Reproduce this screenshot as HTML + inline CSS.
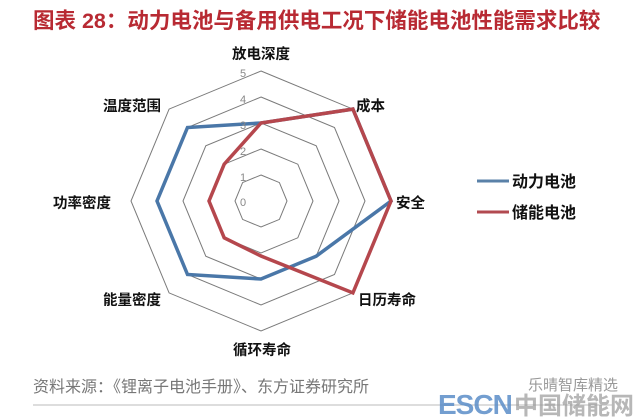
<!DOCTYPE html>
<html><head><meta charset="utf-8"><style>
body{margin:0;background:#fff;}
svg{display:block;}
text{font-family:"Liberation Sans","Noto Sans CJK SC",sans-serif;}
.l{font-size:14.5px;font-weight:bold;fill:#111;}
.n{font-size:11px;fill:#888;}
</style></head><body>
<svg width="640" height="417" viewBox="0 0 640 417">
<rect width="640" height="417" fill="#fff"/>
<text x="33" y="28" font-size="21.5" font-weight="bold" fill="#b82a33">图表 28：动力电池与备用供电工况下储能电池性能需求比较</text>
<g transform="translate(261,201)" fill="none" stroke="#7a7a7a" stroke-width="1">
<polygon points="0,-26 18.4,-18.4 26,0 18.4,18.4 0,26 -18.4,18.4 -26,0 -18.4,-18.4"/>
<polygon points="0,-52 36.8,-36.8 52,0 36.8,36.8 0,52 -36.8,36.8 -52,0 -36.8,-36.8"/>
<polygon points="0,-78 55.2,-55.2 78,0 55.2,55.2 0,78 -55.2,55.2 -78,0 -55.2,-55.2"/>
<polygon points="0,-104 73.5,-73.5 104,0 73.5,73.5 0,104 -73.5,73.5 -104,0 -73.5,-73.5"/>
<polygon points="0,-130 91.9,-91.9 130,0 91.9,91.9 0,130 -91.9,91.9 -130,0 -91.9,-91.9"/>
<polygon stroke="#4a77a8" stroke-width="3.5" points="0,-78 91.9,-91.9 130,0 55.2,55.2 0,78 -73.5,73.5 -104,0 -73.5,-73.5"/>
<polygon stroke="#b5474d" stroke-width="3.5" points="0,-78 91.9,-91.9 130,0 91.9,91.9 0,55 -36.8,36.8 -52,0 -36.8,-36.8"/>
</g>
<g class="n">
<text x="240" y="206">0</text><text x="240" y="181">1</text><text x="240" y="155">2</text>
<text x="240" y="129">3</text><text x="240" y="103">4</text><text x="240" y="77">5</text>
</g>
<g class="l">
<text x="261" y="59" text-anchor="middle">放电深度</text>
<text x="356" y="111">成本</text>
<text x="103" y="111">温度范围</text>
<text x="396" y="208">安全</text>
<text x="53" y="208">功率密度</text>
<text x="358" y="305">日历寿命</text>
<text x="103" y="305">能量密度</text>
<text x="262" y="355" text-anchor="middle">循环寿命</text>
</g>
<line x1="477" y1="181" x2="509" y2="181" stroke="#5a81a8" stroke-width="3"/>
<line x1="477" y1="212" x2="509" y2="212" stroke="#b24a50" stroke-width="3"/>
<text x="512" y="187" font-size="16" font-weight="bold" fill="#111">动力电池</text>
<text x="512" y="218" font-size="16" font-weight="bold" fill="#111">储能电池</text>
<text x="33" y="392" font-size="16" fill="#777">资料来源：《锂离子电池手册》、东方证券研究所</text>
<line x1="33" y1="405" x2="612" y2="405" stroke="#bbb" stroke-width="1"/>
<text x="528" y="390" font-size="15" fill="#999">乐晴智库精选</text>
<text x="438" y="414" font-size="28" font-weight="bold" fill="#5b8ec8" opacity="0.85" letter-spacing="-1">ESCN</text>
<text x="514" y="414" font-size="24" font-weight="bold" fill="#999" opacity="0.7">中国储能网</text>
</svg>
</body></html>
